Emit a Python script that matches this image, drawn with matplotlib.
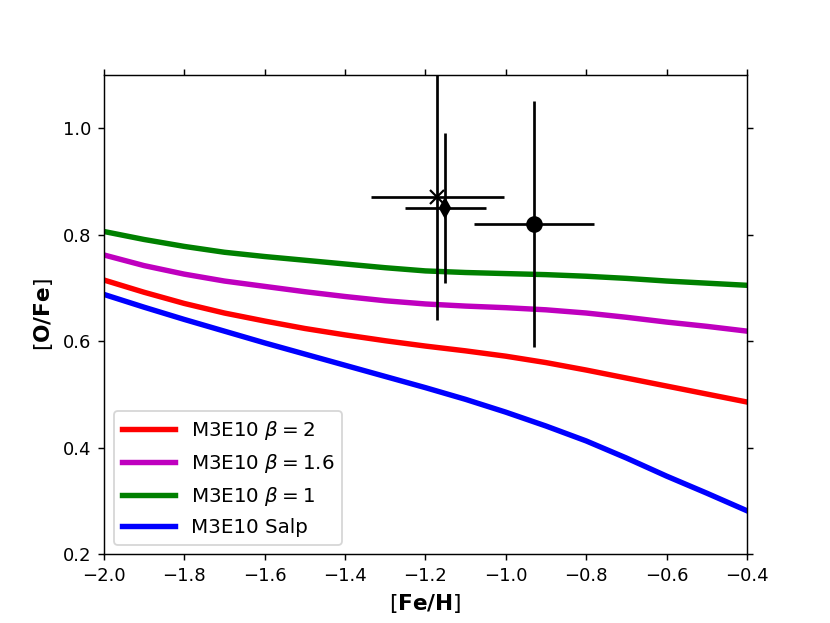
import matplotlib
matplotlib.use("Agg")
import matplotlib.pyplot as plt

# model tracks on a [Fe/H] grid
feh = [-2.0, -1.9, -1.8, -1.7, -1.6, -1.5, -1.4, -1.3, -1.2, -1.1,
       -1.0, -0.9, -0.8, -0.7, -0.6, -0.5, -0.4]
ofe_b2 = [0.715, 0.692, 0.671, 0.653, 0.638, 0.624, 0.612, 0.601, 0.591, 0.582,
          0.572, 0.560, 0.546, 0.531, 0.516, 0.501, 0.486]
ofe_b16 = [0.762, 0.742, 0.726, 0.713, 0.703, 0.693, 0.684, 0.676, 0.670, 0.666,
           0.663, 0.659, 0.653, 0.645, 0.636, 0.628, 0.619]
ofe_b1 = [0.806, 0.791, 0.778, 0.767, 0.759, 0.752, 0.745, 0.738, 0.732, 0.729,
          0.727, 0.725, 0.722, 0.718, 0.713, 0.709, 0.705]
ofe_salp = [0.688, 0.664, 0.641, 0.619, 0.597, 0.576, 0.555, 0.534, 0.513, 0.491,
            0.467, 0.441, 0.413, 0.381, 0.347, 0.315, 0.282]

# observations
obs_x = [-1.17, -1.15, -0.93]
obs_y = [0.87, 0.85, 0.82]
obs_xerr = [0.165, 0.10, 0.15]
obs_yerr = [0.23, 0.14, 0.23]
obs_marker = ['x', 'd', 'o']
obs_ms = [8, 7, 8]

fig, ax = plt.subplots(figsize=(830 / 130, 623 / 130), dpi=130)

ax.plot(feh, ofe_b2, color='r', lw=3, label=r'M3E10 $\beta=2$')
ax.plot(feh, ofe_b16, color='m', lw=3, label=r'M3E10 $\beta=1.6$')
ax.plot(feh, ofe_b1, color='g', lw=3, label=r'M3E10 $\beta=1$')
ax.plot(feh, ofe_salp, color='b', lw=3, label='M3E10 Salp')

for x, y, xe, ye, m, s in zip(obs_x, obs_y, obs_xerr, obs_yerr, obs_marker, obs_ms):
    ax.errorbar(x, y, xerr=xe, yerr=ye, fmt=m, color='k', ms=s, elinewidth=1.5, mew=1.2)

ax.set_xlim(-2.0, -0.4)
ax.set_ylim(0.2, 1.1)
ax.set_yticks([0.2, 0.4, 0.6, 0.8, 1.0])
ax.tick_params(top=True, right=True)

ax.set_xlabel(r'[$\mathbf{Fe/H}$]', fontsize=12)
ax.set_ylabel(r'[$\mathbf{O/Fe}$]', fontsize=12)
ax.legend(loc='lower left', fontsize=11, handlelength=2.7)

plt.savefig("out.png")
